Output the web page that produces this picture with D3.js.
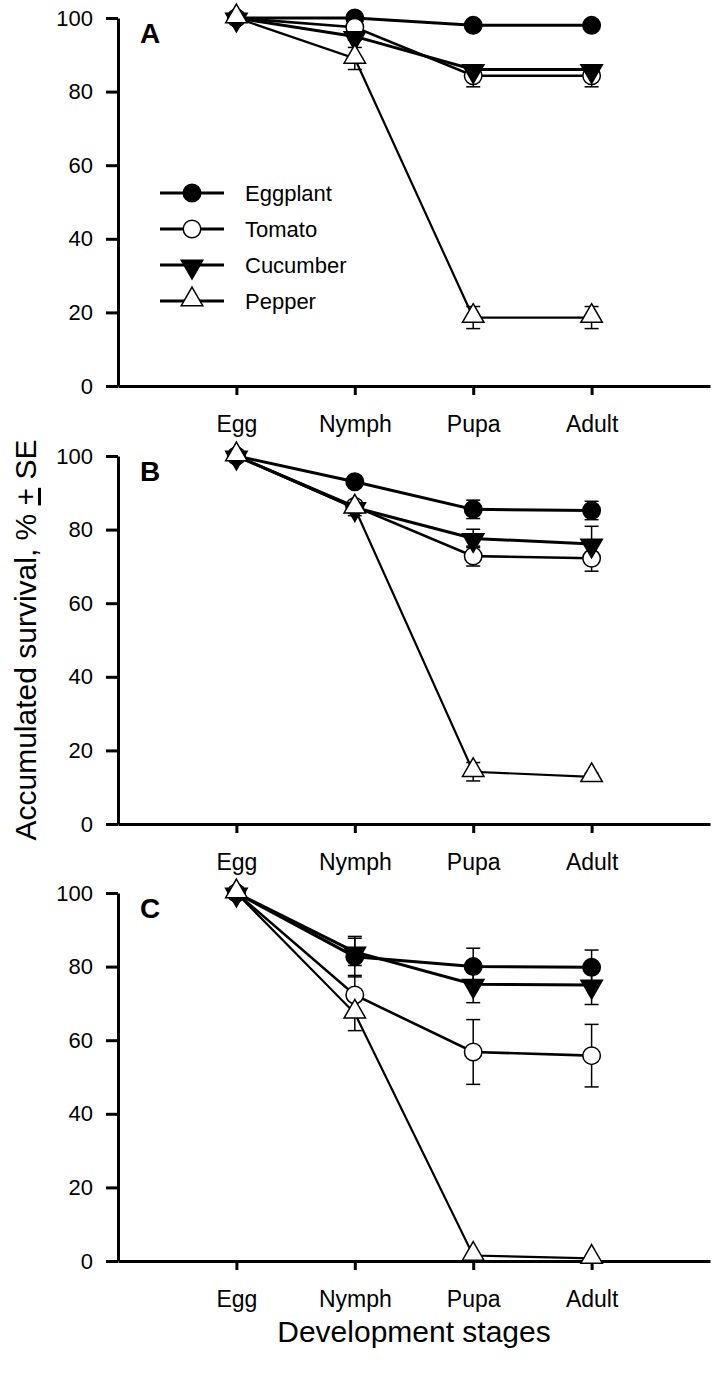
<!DOCTYPE html>
<html><head><meta charset="utf-8">
<script src="https://cdn.jsdelivr.net/npm/d3@7"></script>
<style>
html,body{margin:0;padding:0;background:#fff;}
text{font-family:"Liberation Sans",Arial,sans-serif;fill:#000;}
</style></head><body>
<svg id="chart" width="718" height="1379"></svg>
<script>
const stages = ["Egg","Nymph","Pupa","Adult"];
const hosts = ["Eggplant","Tomato","Cucumber","Pepper"];
const panelLabels = ["A","B","C"];
const yTicks = [0,20,40,60,80,100];

// Panel A
const A_eggplant = [100, 100, 98, 98];      const A_eggplant_se = [0, 0.5, 0.5, 0.5];
const A_tomato   = [100, 97.5, 84.3, 84.3]; const A_tomato_se   = [0, 1, 3, 3];
const A_cucumber = [100, 95, 86, 86];       const A_cucumber_se = [0, 1, 1, 1];
const A_pepper   = [100, 89, 18.6, 18.6];   const A_pepper_se   = [0, 3, 3, 3];
// Panel B
const B_eggplant = [100, 93, 85.5, 85.2];   const B_eggplant_se = [0, 1, 2.5, 2.5];
const B_tomato   = [100, 86.3, 72.8, 72.2]; const B_tomato_se   = [0, 1.5, 2.7, 3.5];
const B_cucumber = [100, 86, 77.6, 76.1];   const B_cucumber_se = [0, 1.5, 2.5, 4.8];
const B_pepper   = [100, 85.8, 14.2, 12.8]; const B_pepper_se   = [0, 2, 2.5, 1];
// Panel C
const C_eggplant = [100, 82.7, 80, 79.8];   const C_eggplant_se = [0, 5.5, 5, 4.7];
const C_tomato   = [100, 72.3, 56.8, 55.8]; const C_tomato_se   = [0, 5.3, 8.8, 8.5];
const C_cucumber = [100, 84, 75.2, 75];     const C_cucumber_se = [0, 3.7, 5, 5.3];
const C_pepper   = [100, 67.3, 1.5, 0.7];   const C_pepper_se   = [0, 4.7, 0.3, 0.3];

const panelData = [
  [[A_eggplant,A_eggplant_se],[A_tomato,A_tomato_se],[A_cucumber,A_cucumber_se],[A_pepper,A_pepper_se]],
  [[B_eggplant,B_eggplant_se],[B_tomato,B_tomato_se],[B_cucumber,B_cucumber_se],[B_pepper,B_pepper_se]],
  [[C_eggplant,C_eggplant_se],[C_tomato,C_tomato_se],[C_cucumber,C_cucumber_se],[C_pepper,C_pepper_se]]
];

const svg = d3.select("#chart");
const x = d3.scaleLinear().domain([0,5]).range([118,710]);
const panelTops = [18, 456, 893];
const panelH = 368;

const markerStyle = [
  {sym:d3.symbolCircle, size:240, fill:"#000", rot:0},
  {sym:d3.symbolCircle, size:240, fill:"#fff", rot:0},
  {sym:d3.symbolTriangle, size:200, fill:"#000", rot:180},
  {sym:d3.symbolTriangle, size:200, fill:"#fff", rot:0}
];
const lineW = [3,2.6,3,2.2];

function drawMarker(g, cx, cy, i){
  const m = markerStyle[i];
  g.append("path")
    .attr("d", d3.symbol().type(m.sym).size(m.size)())
    .attr("transform", `translate(${cx},${cy}) rotate(${m.rot})` + (m.sym===d3.symbolTriangle ? " translate(0,-1.5)" : ""))
    .attr("fill", m.fill).attr("stroke","#000").attr("stroke-width",1.5);
}

panelData.forEach((series, p) => {
  const y = d3.scaleLinear().domain([0,100]).range([panelTops[p]+panelH, panelTops[p]]);
  const g = svg.append("g");

  // y axis
  const ya = g.append("g").attr("transform",`translate(${x(0)},0)`)
    .call(d3.axisLeft(y).tickValues(yTicks).tickSize(12).tickSizeOuter(0).tickPadding(13));
  ya.select(".domain").attr("stroke-width",3).attr("stroke","#000");
  ya.selectAll(".tick line").attr("stroke-width",3).attr("stroke","#000");
  ya.selectAll(".tick text").attr("font-size",22).attr("font-family","Liberation Sans, Arial, sans-serif").attr("fill","#000");

  // x axis
  const xa = g.append("g").attr("transform",`translate(0,${y(0)})`)
    .call(d3.axisBottom(x).tickValues([1,2,3,4]).tickFormat(i=>stages[i-1]).tickSize(9).tickSizeOuter(0).tickPadding(21));
  xa.select(".domain").attr("stroke-width",3).attr("stroke","#000");
  xa.selectAll(".tick line").attr("stroke-width",3).attr("stroke","#000");
  xa.selectAll(".tick text").attr("font-size",23).attr("font-family","Liberation Sans, Arial, sans-serif").attr("fill","#000");

  // panel letter
  g.append("text").attr("x",140).attr("y",panelTops[p]+25).attr("font-size",28).attr("font-weight","bold").text(panelLabels[p]);

  const line = d3.line().x((d,i)=>x(i+1)).y(d=>y(d));
  series.forEach(([vals,se], s) => {
    g.append("path").datum(vals).attr("d",line).attr("fill","none").attr("stroke","#000").attr("stroke-width",lineW[s]);
  });
  series.forEach(([vals,se], s) => {
    vals.forEach((v,i)=>{
      if(se[i] <= 0) return;
      const cx = x(i+1);
      const eb = g.append("g").attr("stroke","#000").attr("stroke-width",1.5);
      eb.append("line").attr("x1",cx).attr("x2",cx).attr("y1",y(v-se[i])).attr("y2",y(v+se[i]));
      eb.append("line").attr("x1",cx-7).attr("x2",cx+7).attr("y1",y(v-se[i])).attr("y2",y(v-se[i]));
      eb.append("line").attr("x1",cx-7).attr("x2",cx+7).attr("y1",y(v+se[i])).attr("y2",y(v+se[i]));
    });
  });
  series.forEach(([vals,se], s) => {
    vals.forEach((v,i)=> drawMarker(g, x(i+1), y(v), s));
  });

  if(p===0){
    const lg = svg.append("g");
    hosts.forEach((h,i)=>{
      const ly = 193 + i*36;
      lg.append("line").attr("x1",160).attr("x2",224).attr("y1",ly).attr("y2",ly).attr("stroke","#000").attr("stroke-width",3);
      drawMarker(lg, 192, ly, i);
      lg.append("text").attr("x",245).attr("y",ly).attr("dy","0.35em").attr("font-size",22).text(h);
    });
  }
});

// axis titles
const yt = svg.append("text").attr("transform","translate(36,640) rotate(-90)").attr("text-anchor","middle").attr("font-size",30);
yt.append("tspan").text("Accumulated survival, % ");
yt.append("tspan").attr("text-decoration","underline").text("+");
yt.append("tspan").text(" SE");
svg.append("text").attr("x",414).attr("y",1342).attr("text-anchor","middle").attr("font-size",30).text("Development stages");
</script>
</body></html>
